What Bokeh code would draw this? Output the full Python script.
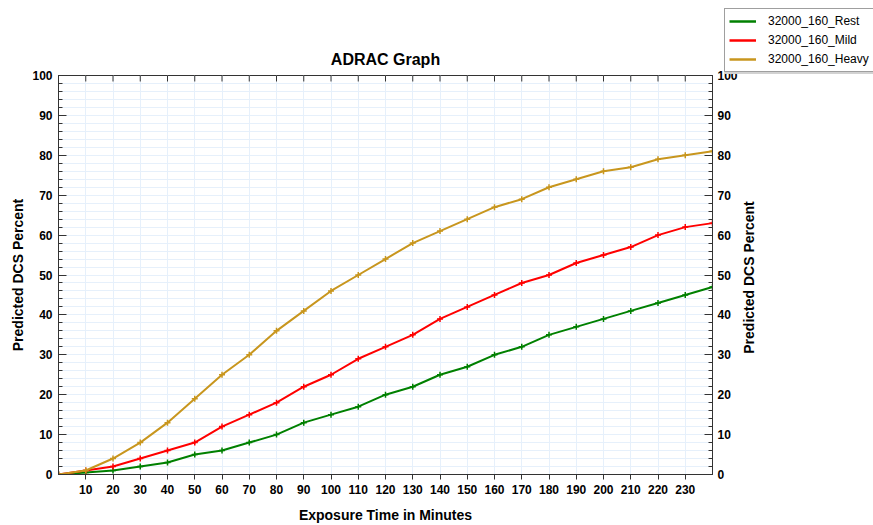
import math
from bokeh.plotting import figure
from bokeh.models import (LinearAxis, FixedTicker, Range1d, Legend, LegendItem,
                          Title)
from bokeh.core.properties import value
from bokeh.embed import file_html
from bokeh.resources import INLINE

minutes = [0, 10, 20, 30, 40, 50, 60, 70, 80, 90, 100, 110, 120, 130, 140, 150,
           160, 170, 180, 190, 200, 210, 220, 230, 240]
rest = [0, 0.5, 1, 2, 3, 5, 6, 8, 10, 13, 15, 17, 20, 22, 25, 27, 30, 32, 35, 37,
        39, 41, 43, 45, 47]
mild = [0, 1, 2, 4, 6, 8, 12, 15, 18, 22, 25, 29, 32, 35, 39, 42, 45, 48, 50, 53,
        55, 57, 60, 62, 63]
heavy = [0, 1, 4, 8, 13, 19, 25, 30, 36, 41, 46, 50, 54, 58, 61, 64, 67, 69, 72,
         74, 76, 77, 79, 80, 81]
series_names = ["32000_160_Rest", "32000_160_Mild", "32000_160_Heavy"]
series_colors = ["#008000", "#ff0000", "#c8961e"]
x_ticks = list(range(10, 240, 10))
y_ticks = list(range(0, 101, 10))
y_minor = list(range(0, 101, 2))
X_MAX = 240
Y_MAX = 100
y_title = "Predicted DCS Percent"

FONT = "Liberation Sans"

p = figure(width=873, height=525, output_backend="svg", toolbar_location=None,
           x_range=Range1d(0, X_MAX), y_range=Range1d(0, Y_MAX),
           min_border_left=58, min_border_right=161, min_border_top=75,
           min_border_bottom=49, background_fill_color="white",
           border_fill_color="white")
p.outline_line_color = "#333333"
p.outline_line_width = 1

# grids
p.xgrid.ticker = FixedTicker(ticks=x_ticks)
p.xgrid.grid_line_color = "#e6f0fb"
p.ygrid.ticker = FixedTicker(ticks=y_ticks, minor_ticks=y_minor)
p.ygrid.grid_line_color = "#e6f0fb"
p.ygrid.minor_grid_line_color = "#e6f0fb"

def style_axis(ax):
    ax.axis_line_color = "#333333"
    ax.major_tick_line_color = "#333333"
    ax.minor_tick_line_color = "#333333"
    ax.major_label_text_font = FONT
    ax.major_label_text_font_style = "bold"
    ax.major_label_text_font_size = "12px"
    ax.major_label_text_color = "black"
    ax.axis_label_text_font = FONT
    ax.axis_label_text_font_style = "bold"
    ax.axis_label_text_font_size = "14px"
    ax.axis_label_text_color = "black"

# bottom x axis
xa = p.xaxis[0]
xa.ticker = FixedTicker(ticks=x_ticks)
xa.axis_label = "Exposure Time in Minutes"
style_axis(xa)
xa.major_tick_out = 5
xa.major_tick_in = 0
xa.minor_tick_out = 0
xa.minor_tick_in = 0
xa.major_label_standoff = 5
xa.axis_label_standoff = 10

# title
title = Title(text="ADRAC Graph", align="center", text_font=FONT,
              text_font_size="16px", text_font_style="bold", text_color="black",
              offset=0, standoff=16)
p.add_layout(title, "above")

# inward tick marks along the top edge of the frame
p.segment(x0=x_ticks, x1=x_ticks, y0=[Y_MAX] * len(x_ticks),
          y1=[Y_MAX - 1.5] * len(x_ticks), line_color="#333333", line_width=1)

# left y axis
ya = p.yaxis[0]
ya.ticker = FixedTicker(ticks=y_ticks, minor_ticks=y_minor)
ya.axis_label = y_title
style_axis(ya)
ya.major_tick_in = 8
ya.major_tick_out = 0
ya.minor_tick_in = 4
ya.minor_tick_out = 0
ya.major_label_standoff = 6
ya.axis_label_standoff = 3

# right y axis (its title is drawn by the small overlay below)
ra = LinearAxis(ticker=FixedTicker(ticks=y_ticks, minor_ticks=y_minor))
style_axis(ra)
ra.major_tick_in = 8
ra.major_tick_out = 0
ra.minor_tick_in = 4
ra.minor_tick_out = 0
ra.major_label_standoff = 5
p.add_layout(ra, "right")

for name, ys, col in zip(series_names, [rest, mild, heavy], series_colors):
    p.line(minutes, ys, line_color=col, line_width=2)
    p.scatter(minutes, ys, marker="cross", size=6, line_color=col, line_width=1.5)

# right axis title, reading bottom-to-top like the left one
rt = figure(width=20, height=170, output_backend="svg", toolbar_location=None,
            x_axis_type=None, y_axis_type=None, min_border=0,
            x_range=Range1d(0, 1), y_range=Range1d(0, 1),
            background_fill_alpha=0, border_fill_alpha=0,
            outline_line_color=None,
            styles={"position": "absolute", "left": "738px", "top": "192px",
                    "z-index": "5"})
rt.xgrid.visible = False
rt.ygrid.visible = False
rt.text(x=[0.5], y=[0.5], text=[y_title], angle=math.pi / 2,
        text_align="center", text_baseline="middle",
        text_font=value(FONT), text_font_style="bold", text_font_size="14px",
        text_color="black")

# separate small legend figure, overlaid at the top right of the page
lg = figure(width=149, height=66, output_backend="svg", toolbar_location=None,
            x_axis_type=None, y_axis_type=None, min_border=0,
            x_range=Range1d(0, X_MAX), y_range=Range1d(0, Y_MAX),
            background_fill_color="#d2d2d2", border_fill_color="#d2d2d2",
            outline_line_color=None,
            styles={"position": "absolute", "left": "724px", "top": "8px",
                    "z-index": "10"})
lg.xgrid.visible = False
lg.ygrid.visible = False
items = []
for name, ys, col in zip(series_names, [rest, mild, heavy], series_colors):
    r = lg.line(minutes, ys, line_color=col, line_width=2.5, visible=False)
    items.append(LegendItem(label=name, renderers=[r]))

legend = Legend(items=items, location="top_left", orientation="vertical",
                label_text_font=FONT, label_text_font_size="12px",
                label_text_color="black", border_line_color="#404040",
                border_line_width=1, background_fill_color="white",
                background_fill_alpha=1, inactive_fill_alpha=0,
                glyph_width=27, glyph_height=16, label_height=16, spacing=3,
                padding=4, margin=0, label_standoff=12)
lg.add_layout(legend, "center")

open("out.html", "w").write(file_html([p, rt, lg], INLINE))
